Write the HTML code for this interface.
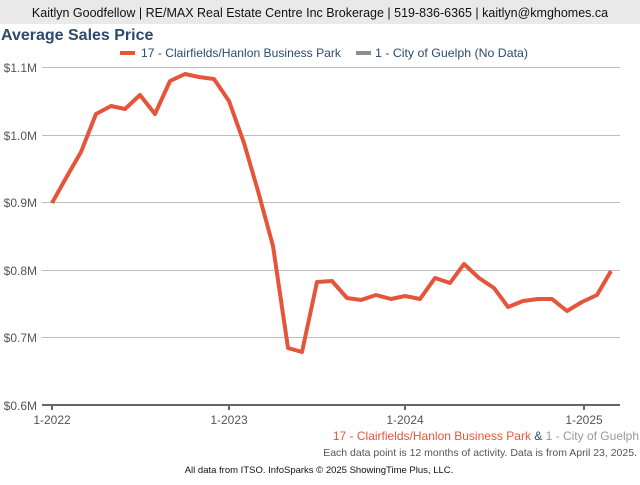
<!DOCTYPE html>
<html><head><meta charset="utf-8"><style>
body{margin:0;width:640px;height:480px;background:#fff;font-family:"Liberation Sans",sans-serif;overflow:hidden}
</style></head><body>
<svg width="640" height="480" xmlns="http://www.w3.org/2000/svg" font-family="Liberation Sans, sans-serif">
<rect x="0" y="0" width="640" height="24" fill="#e9e9e9"/>
<text x="320" y="17" font-size="12.5" text-anchor="middle" fill="#111">Kaitlyn Goodfellow | RE/MAX Real Estate Centre Inc Brokerage | 519-836-6365 | kaitlyn@kmghomes.ca</text>
<text x="1" y="40" font-size="16" font-weight="bold" fill="#2c4a6e">Average Sales Price</text>
<rect x="120" y="51" width="15" height="4" fill="#e4553a"/>
<text x="141" y="57" font-size="12" fill="#2c4a6e" textLength="200" lengthAdjust="spacingAndGlyphs">17 - Clairfields/Hanlon Business Park</text>
<rect x="356" y="51" width="15" height="4" fill="#8a8f8c"/>
<text x="375" y="57" font-size="12" fill="#2c4a6e" textLength="153" lengthAdjust="spacingAndGlyphs">1 - City of Guelph (No Data)</text>
<g stroke="#bdbdbd" stroke-width="1">
<line x1="42" y1="67.5" x2="620" y2="67.5"/>
<line x1="42" y1="135.5" x2="620" y2="135.5"/>
<line x1="42" y1="202.5" x2="620" y2="202.5"/>
<line x1="42" y1="270.5" x2="620" y2="270.5"/>
<line x1="42" y1="337.5" x2="620" y2="337.5"/>
</g>
<line x1="42" y1="405" x2="620" y2="405" stroke="#666" stroke-width="2"/>
<g stroke="#666" stroke-width="2"><line x1="52" y1="405" x2="52" y2="410"/><line x1="229" y1="405" x2="229" y2="410"/><line x1="405" y1="405" x2="405" y2="410"/><line x1="584" y1="405" x2="584" y2="410"/></g>
<g font-size="12" fill="#555" text-anchor="end">
<text x="37" y="72">$1.1M</text><text x="37" y="140">$1.0M</text><text x="37" y="207">$0.9M</text>
<text x="37" y="275">$0.8M</text><text x="37" y="342">$0.7M</text><text x="37" y="410">$0.6M</text>
</g>
<g font-size="12" fill="#555" text-anchor="middle">
<text x="52" y="424">1-2022</text><text x="229" y="424">1-2023</text><text x="405" y="424">1-2024</text><text x="584" y="424">1-2025</text>
</g>
<polyline fill="none" stroke="#e4553a" stroke-width="4" stroke-linejoin="round" points="52,203 66,178 81,152 96,114 111,106 125,109 140,95 155,114 170,81 185,74 199,77 214,79 229,101 244,143 258,191 273,246 288,348 302,352 317,282 332,281 347,298 361,300 376,295 391,299 405,296 420,299 435,278 450,283 464,264 479,278 494,288 508,307 523,301 538,299 552,299 567,311 582,302 597,295 611,271"/>
<text x="639" y="440" font-size="12" text-anchor="end"><tspan fill="#e4553a">17 - Clairfields/Hanlon Business Park</tspan><tspan fill="#2c4a6e"> &amp; </tspan><tspan fill="#999">1 - City of Guelph</tspan></text>
<text x="637" y="456" font-size="10.5" fill="#555" text-anchor="end">Each data point is 12 months of activity. Data is from April 23, 2025.</text>
<text x="319" y="473" font-size="9.5" fill="#111" text-anchor="middle">All data from ITSO. InfoSparks © 2025 ShowingTime Plus, LLC.</text>
</svg>
</body></html>
